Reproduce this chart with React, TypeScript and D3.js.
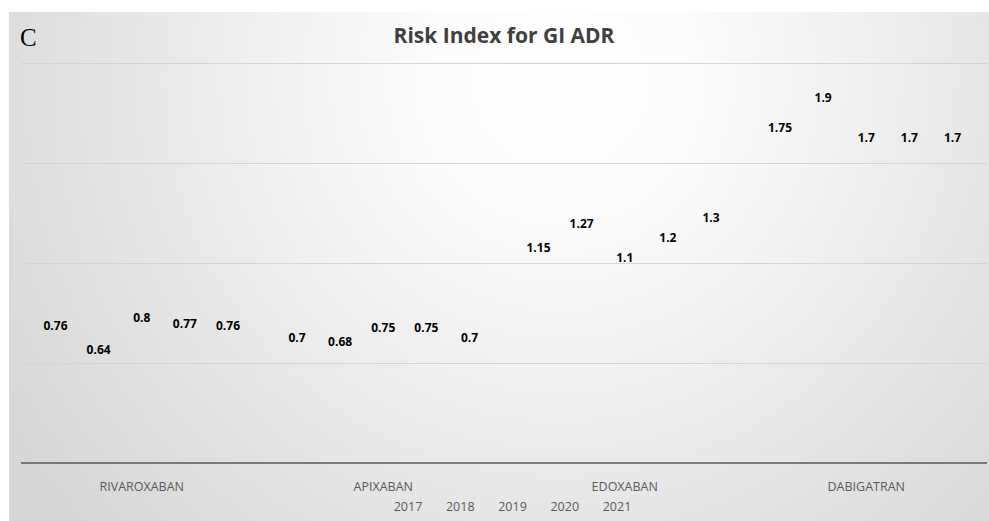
import React from "react";
import * as d3 from "d3";

const drugs = ["RIVAROXABAN", "APIXABAN", "EDOXABAN", "DABIGATRAN"];
const years = ["2017", "2018", "2019", "2020", "2021"];
// risk index per drug, one value per year 2017..2021
const rivaroxaban = [0.76, 0.64, 0.8, 0.77, 0.76];
const apixaban = [0.7, 0.68, 0.75, 0.75, 0.7];
const edoxaban = [1.15, 1.27, 1.1, 1.2, 1.3];
const dabigatran = [1.75, 1.9, 1.7, 1.7, 1.7];
const yTicks = [0, 0.5, 1, 1.5, 2];

const W = 989;
const H = 521;

const App = () => {
  const values = [rivaroxaban, apixaban, edoxaban, dabigatran];

  const x = d3.scaleBand().domain(drugs).range([21, 987]);
  const xi = d3.scalePoint().domain(years).range([0, x.bandwidth()]).padding(0.8);
  const y = d3.scaleLinear().domain([0, 2]).range([463, 63]);

  const legendX = d3.scalePoint().domain(years).range([408, 617]);

  return (
    <svg
      width={W}
      height={H}
      style={{ position: "absolute", left: 0, top: 0, background: "#fff" }}
    >
      <defs>
        <radialGradient id="bg" gradientUnits="userSpaceOnUse" cx={560} cy={80} r={660}>
          <stop offset="0" stopColor="#ffffff" />
          <stop offset="0.2" stopColor="#fcfcfc" />
          <stop offset="1" stopColor="#d6d6d6" />
        </radialGradient>
      </defs>
      <rect x={9} y={12} width={W - 9} height={H - 12} fill="url(#bg)" />

      <text x={20} y={46} fontFamily="Liberation Serif, serif" fontSize={25} fill="#000">
        C
      </text>
      <text
        x={504}
        y={43}
        textAnchor="middle"
        fontFamily="Open Sans, sans-serif"
        fontWeight="bold"
        fontSize={21}
        fill="#404040"
      >
        Risk Index for GI ADR
      </text>

      {yTicks.slice(1).map((t) => (
        <line
          key={t}
          x1={21}
          x2={987}
          y1={Math.round(y(t)) + 0.5}
          y2={Math.round(y(t)) + 0.5}
          stroke="#d4d4d4"
          strokeWidth={1}
        />
      ))}
      <line x1={21} x2={987} y1={y(0)} y2={y(0)} stroke="#595959" strokeWidth={1.5} />

      {drugs.map((d, i) =>
        values[i].map((v, j) => (
          <text
            key={d + j}
            x={(x(d) ?? 0) + (xi(years[j]) ?? 0)}
            y={y(v) + 15}
            dy="0.35em"
            textAnchor="middle"
            fontFamily="Open Sans, sans-serif"
            fontWeight="bold"
            fontSize={12}
            fill="#000"
          >
            {v}
          </text>
        ))
      )}

      {drugs.map((d) => (
        <text
          key={d}
          x={(x(d) ?? 0) + x.bandwidth() / 2}
          y={487}
          dy="0.35em"
          textAnchor="middle"
          fontFamily="Open Sans, sans-serif"
          fontSize={12.5}
          fill="#595959"
        >
          {d}
        </text>
      ))}

      {years.map((yr) => (
        <text
          key={yr}
          x={legendX(yr)}
          y={507}
          dy="0.35em"
          textAnchor="middle"
          fontFamily="Open Sans, sans-serif"
          fontSize={12.5}
          fill="#595959"
        >
          {yr}
        </text>
      ))}
    </svg>
  );
};

export default App;
